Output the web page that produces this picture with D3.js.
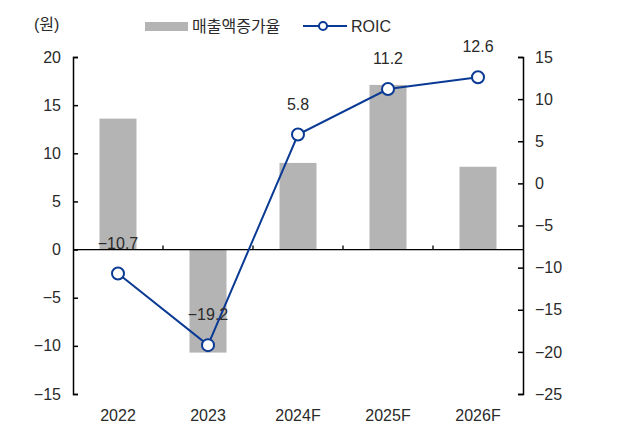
<!DOCTYPE html>
<html lang="ko">
<head>
    <meta charset="UTF-8">
    <title>매출액증가율 / ROIC</title>
    <script src="https://d3js.org/d3.v7.min.js"></script>
    <style>
        body { margin: 0; background: #fff; }
        text { font-family: "Liberation Sans", "Noto Sans CJK KR", sans-serif; fill: #2a2a2a; }
    </style>
</head>
<body>
    <div id="chart"></div>
    <script>
        var years = ['2022', '2023', '2024F', '2025F', '2026F'];
        var growth = [13.6, -10.7, 9.0, 17.1, 8.6];
        var roic = [-10.7, -19.2, 5.8, 11.2, 12.6];
        var leftTicks = [20, 15, 10, 5, 0, -5, -10, -15];
        var rightTicks = [15, 10, 5, 0, -5, -10, -15, -20, -25];

        var width = 624, height = 428;
        var padL = 73, padR = 523, padT = 57, padB = 394;
        var blue = '#0a3a94', gray = '#b4b4b4';

        var svg = d3.select('#chart').append('svg')
            .attr('width', width)
            .attr('height', height);

        var x = d3.scaleBand().domain(years).range([padL, padR]);
        var yL = d3.scaleLinear().domain([-15, 20]).range([padB, padT]);
        var yR = d3.scaleLinear().domain([-25, 15]).range([padB, padT]);

        function fmt(v) {
            return v < 0 ? '\u2212' + Math.abs(v) : String(v);
        }

        // 막대
        svg.append('g').selectAll('rect')
            .data(growth)
            .enter()
            .append('rect')
            .attr('fill', gray)
            .attr('x', (d, i) => x(years[i]) + x.bandwidth() / 2 - 18.5)
            .attr('width', 37)
            .attr('y', d => yL(Math.max(0, d)))
            .attr('height', d => Math.abs(yL(d) - yL(0)));

        // 0 기준선
        svg.append('line')
            .attr('x1', padL).attr('x2', padR)
            .attr('y1', yL(0)).attr('y2', yL(0))
            .attr('stroke', '#000').attr('stroke-width', 1.3);
        svg.append('g').selectAll('line')
            .data(years.slice(1))
            .enter()
            .append('line')
            .attr('x1', d => x(d)).attr('x2', d => x(d))
            .attr('y1', yL(0)).attr('y2', yL(0) - 4)
            .attr('stroke', '#000').attr('stroke-width', 1.3);

        // 왼쪽 축
        var axL = svg.append('g')
            .attr('transform', 'translate(' + padL + ',0)')
            .call(d3.axisLeft(yL).tickValues(leftTicks).tickSize(-5).tickPadding(12).tickFormat(fmt));
        // 오른쪽 축
        var axR = svg.append('g')
            .attr('transform', 'translate(' + padR + ',0)')
            .call(d3.axisRight(yR).tickValues(rightTicks).tickSize(-5).tickPadding(12).tickFormat(fmt));
        [axL, axR].forEach(function (ax) {
            ax.select('.domain').attr('stroke', '#000').attr('stroke-width', 1.5);
            ax.selectAll('.tick line').attr('stroke', '#000').attr('stroke-width', 1.5);
            ax.selectAll('.tick text').attr('font-size', 16).attr('fill', '#2a2a2a')
                .attr('font-family', '"Liberation Sans", sans-serif');
        });

        // x 라벨
        svg.append('g').selectAll('text')
            .data(years)
            .enter()
            .append('text')
            .attr('x', d => x(d) + x.bandwidth() / 2)
            .attr('y', 421)
            .attr('text-anchor', 'middle')
            .attr('font-size', 16)
            .text(d => d);

        // ROIC 선
        var line = d3.line()
            .x((d, i) => x(years[i]) + x.bandwidth() / 2)
            .y(d => yR(d));
        svg.append('path')
            .datum(roic)
            .attr('d', line)
            .attr('fill', 'none')
            .attr('stroke', blue)
            .attr('stroke-width', 2);
        svg.append('g').selectAll('circle')
            .data(roic)
            .enter()
            .append('circle')
            .attr('cx', (d, i) => x(years[i]) + x.bandwidth() / 2)
            .attr('cy', d => yR(d))
            .attr('r', 6)
            .attr('fill', '#fff')
            .attr('stroke', blue)
            .attr('stroke-width', 2);
        svg.append('g').selectAll('text')
            .data(roic)
            .enter()
            .append('text')
            .attr('x', (d, i) => x(years[i]) + x.bandwidth() / 2)
            .attr('y', d => yR(d) - 25)
            .attr('text-anchor', 'middle')
            .attr('font-size', 16)
            .text(d => fmt(d));

        // 범례, 단위
        svg.append('text').attr('x', 34).attr('y', 30).attr('font-size', 16).text('(원)');
        svg.append('rect').attr('x', 145).attr('y', 22).attr('width', 43).attr('height', 9).attr('fill', gray);
        svg.append('text').attr('x', 192).attr('y', 32).attr('font-size', 16).text('매출액증가율');
        svg.append('line').attr('x1', 303).attr('x2', 347).attr('y1', 26).attr('y2', 26)
            .attr('stroke', blue).attr('stroke-width', 2);
        svg.append('circle').attr('cx', 323).attr('cy', 26).attr('r', 4)
            .attr('fill', '#fff').attr('stroke', blue).attr('stroke-width', 2);
        svg.append('text').attr('x', 351).attr('y', 32).attr('font-size', 16).text('ROIC');
    </script>
</body>
</html>
